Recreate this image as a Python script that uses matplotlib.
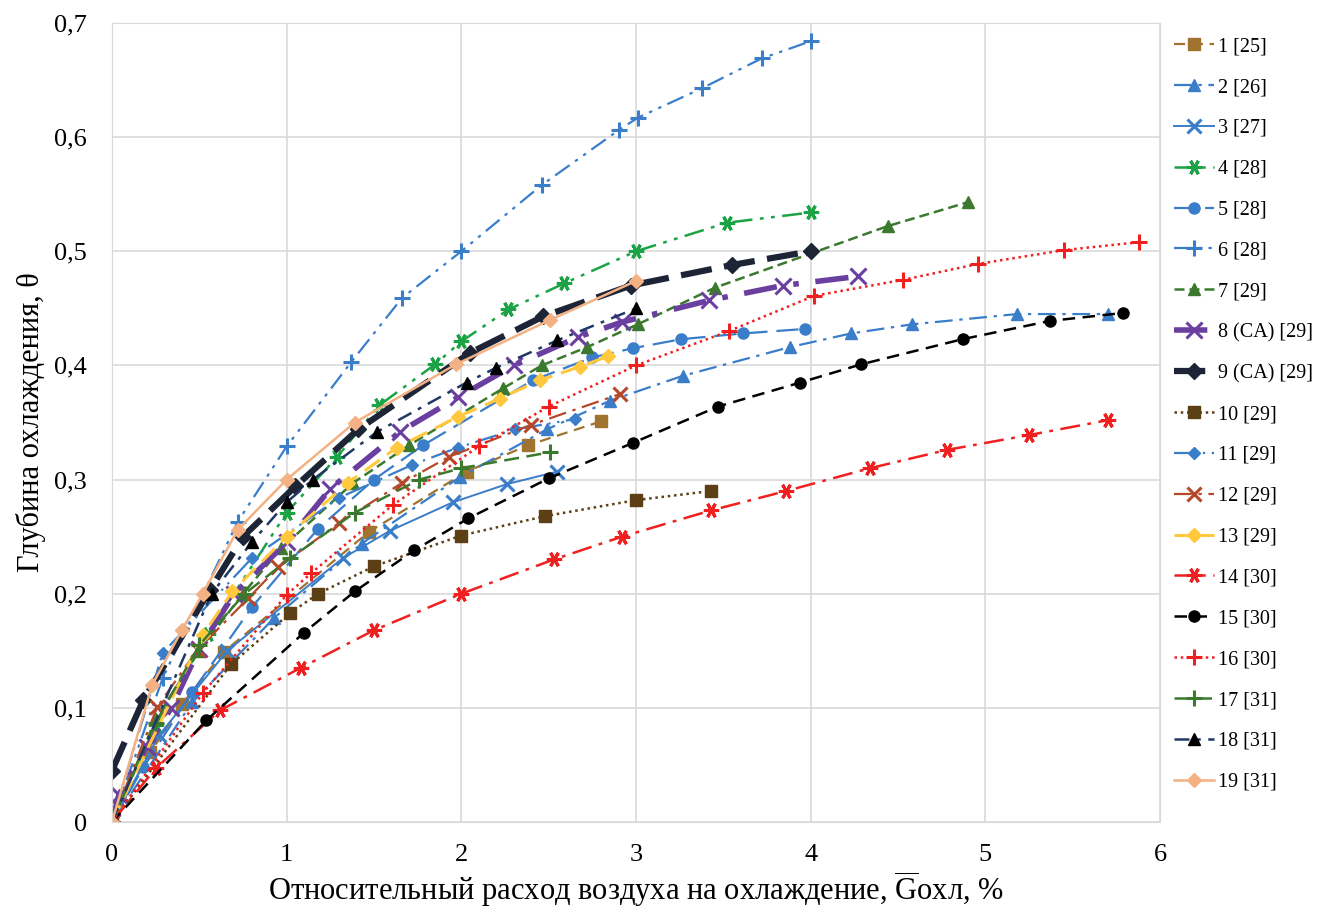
import numpy as np
import matplotlib
matplotlib.use("Agg")
import matplotlib.pyplot as plt
from matplotlib.ticker import FuncFormatter

plt.rcParams['font.family'] = ['Liberation Serif', 'DejaVu Serif']
plt.rcParams['mathtext.fontset'] = 'custom'
plt.rcParams['mathtext.rm'] = 'Liberation Serif'

# данные
x1 = [0, 0.22, 0.4, 0.64, 1.47, 2.03, 2.38, 2.8]
y1 = [0, 0.061, 0.103, 0.149, 0.254, 0.307, 0.33, 0.351]
x2 = [0, 0.46, 0.93, 1.43, 1.99, 2.49, 2.85, 3.27, 3.88, 4.23, 4.58, 5.18, 5.7]
y2 = [0, 0.105, 0.179, 0.244, 0.302, 0.344, 0.369, 0.391, 0.416, 0.428, 0.436, 0.445, 0.445]
x3 = [0, 0.27, 0.66, 1.32, 1.59, 1.95, 2.26, 2.55]
y3 = [0, 0.076, 0.15, 0.231, 0.255, 0.28, 0.296, 0.307]
x4 = [0, 0.25, 0.55, 1.0, 1.29, 1.53, 1.85, 2.0, 2.27, 2.59, 3.0, 3.52, 4.0]
y4 = [0, 0.085, 0.165, 0.271, 0.32, 0.365, 0.401, 0.421, 0.449, 0.472, 0.5, 0.525, 0.534]
x5 = [0, 0.18, 0.46, 0.8, 1.18, 1.5, 1.78, 2.41, 2.75, 2.98, 3.26, 3.61, 3.97]
y5 = [0, 0.048, 0.114, 0.188, 0.257, 0.3, 0.33, 0.387, 0.407, 0.415, 0.423, 0.428, 0.432]
x6 = [0, 0.29, 0.72, 1.0, 1.37, 1.66, 2.0, 2.46, 2.9, 3.01, 3.38, 3.72, 4.0]
y6 = [0, 0.126, 0.263, 0.329, 0.403, 0.459, 0.5, 0.558, 0.606, 0.617, 0.643, 0.669, 0.684]
x7 = [0, 0.25, 0.5, 0.75, 0.97, 1.38, 1.7, 2.24, 2.46, 2.72, 3.01, 3.45, 4.44, 4.9]
y7 = [0, 0.09, 0.15, 0.2, 0.24, 0.297, 0.33, 0.38, 0.4, 0.416, 0.436, 0.468, 0.522, 0.543]
x8 = [0, 0.04, 0.2, 0.34, 0.5, 0.7, 1.0, 1.25, 1.65, 1.98, 2.3, 2.67, 2.92, 3.42, 3.84, 4.27]
y8 = [0, 0.024, 0.066, 0.1, 0.152, 0.2, 0.245, 0.292, 0.342, 0.372, 0.4, 0.425, 0.438, 0.457, 0.47, 0.478]
x9 = [0, 0.18, 0.56, 0.75, 1.05, 1.41, 2.05, 2.47, 2.97, 3.55, 4.0]
y9 = [0.045, 0.107, 0.203, 0.25, 0.294, 0.344, 0.411, 0.443, 0.47, 0.488, 0.5]
x10 = [0, 0.68, 1.02, 1.18, 1.5, 2.0, 2.48, 3.0, 3.43]
y10 = [0, 0.138, 0.183, 0.2, 0.224, 0.251, 0.268, 0.282, 0.29]
x11 = [0, 0.29, 0.8, 1.3, 1.72, 1.98, 2.31, 2.65]
y11 = [0, 0.148, 0.231, 0.284, 0.313, 0.328, 0.344, 0.353]
x12 = [0, 0.26, 0.49, 0.78, 0.95, 1.3, 1.66, 1.93, 2.4, 2.91]
y12 = [0, 0.101, 0.151, 0.196, 0.223, 0.262, 0.297, 0.32, 0.348, 0.375]
x13 = [0, 0.52, 0.69, 1.0, 1.35, 1.63, 1.98, 2.22, 2.45, 2.68, 2.84]
y13 = [0, 0.164, 0.202, 0.25, 0.297, 0.328, 0.355, 0.371, 0.387, 0.399, 0.408]
x14 = [0, 0.25, 0.62, 1.08, 1.5, 2.0, 2.53, 2.92, 3.43, 3.86, 4.34, 4.78, 5.25, 5.7]
y14 = [0, 0.047, 0.098, 0.135, 0.168, 0.2, 0.23, 0.25, 0.273, 0.29, 0.31, 0.326, 0.339, 0.352]
x15 = [0, 0.54, 1.1, 1.39, 1.73, 2.04, 2.5, 2.98, 3.47, 3.94, 4.29, 4.87, 5.37, 5.79]
y15 = [0, 0.089, 0.166, 0.202, 0.238, 0.266, 0.301, 0.332, 0.364, 0.385, 0.401, 0.423, 0.439, 0.446]
x16 = [0, 0.52, 1.0, 1.14, 1.61, 2.1, 2.5, 3.0, 3.53, 4.02, 4.53, 4.96, 5.45, 5.88]
y16 = [0, 0.113, 0.199, 0.218, 0.278, 0.329, 0.364, 0.4, 0.43, 0.461, 0.475, 0.489, 0.501, 0.508]
x17 = [0, 0.25, 0.5, 0.76, 1.02, 1.39, 1.76, 2.0, 2.51]
y17 = [0, 0.087, 0.155, 0.2, 0.231, 0.271, 0.3, 0.31, 0.324]
x18 = [0, 0.57, 0.8, 1.0, 1.15, 1.52, 2.03, 2.2, 2.55, 3.0]
y18 = [0, 0.2, 0.245, 0.28, 0.3, 0.342, 0.385, 0.398, 0.422, 0.45]
x19 = [0, 0.23, 0.4, 0.52, 0.72, 1.0, 1.39, 1.97, 2.51, 3.0]
y19 = [0, 0.12, 0.168, 0.2, 0.256, 0.3, 0.35, 0.401, 0.44, 0.474]

labels = ["1 [25]", "2 [26]", "3 [27]", "4 [28]", "5 [28]", "6 [28]", "7 [29]",
          "8 (CA) [29]", "9 (CA) [29]", "10 [29]", "11 [29]", "12 [29]", "13 [29]",
          "14 [30]", "15 [30]", "16 [30]", "17 [31]", "18 [31]", "19 [31]"]

blue = "#3a7dc9"
# (x, y, цвет, стиль линии, толщина, маркер, размер маркера, цвет маркера)
series = [
    (x1, y1, "#a0732e", (0, (5, 3)), 1.6, "s", 8, "#a0732e"),
    (x2, y2, blue, (0, (8, 3, 1.5, 3)), 1.6, "^", 8, blue),
    (x3, y3, blue, "-", 1.4, "x", 10, blue),
    (x4, y4, "#1ba345", (0, (8, 3, 1.5, 3, 1.5, 3)), 1.8, (6, 2, 90), 11, "#1ba345"),
    (x5, y5, blue, (0, (10, 4)), 1.6, "o", 8, blue),
    (x6, y6, blue, (0, (8, 3, 1.5, 3, 1.5, 3)), 1.6, "+", 11, blue),
    (x7, y7, "#3b7a2e", (0, (4, 2)), 1.8, "^", 8, "#3b7a2e"),
    (x8, y8, "#6a3fa0", (0, (6, 3, 1, 3)), 4.0, "x", 12, "#6a3fa0"),
    (x9, y9, "#1c2436", (0, (5, 2)), 4.5, "D", 8, "#1c2436"),
    (x10, y10, "#5c3f14", (0, (1, 1.5)), 1.8, "s", 9, "#5c3f14"),
    (x11, y11, blue, (0, (10, 3, 1, 3, 1, 3)), 1.6, "D", 6, blue),
    (x12, y12, "#b5472a", (0, (8, 3, 1.5, 3)), 1.6, "x", 10, "#b5472a"),
    (x13, y13, "#ffc83d", (0, (6, 3)), 2.2, "D", 7, "#ffc83d"),
    (x14, y14, "#f02020", (0, (8, 3, 1.5, 3)), 1.8, (6, 2, 90), 11, "#f02020"),
    (x15, y15, "black", (0, (5, 3)), 1.8, "o", 8, "black"),
    (x16, y16, "#f02020", (0, (1, 1.5)), 1.8, "+", 11, "#f02020"),
    (x17, y17, "#3b7a2e", (0, (6, 3)), 1.8, "+", 11, "#3b7a2e"),
    (x18, y18, "#1f3864", (0, (6, 3, 1.5, 3)), 1.8, "^", 8, "black"),
    (x19, y19, "#f4b183", "-", 1.8, "D", 7, "#f4b183"),
]

fig = plt.figure(figsize=(13.25, 9.16), dpi=100)
ax = fig.add_axes([0.0845, 0.1026, 0.791, 0.8723])

for (xs, ys, c, ls, lw, mk, ms, mc), lab in zip(series, labels):
    mew = 2.2 if mk in ("x", "+") or isinstance(mk, tuple) else 1.0
    ax.plot(xs, ys, color=c, linestyle=ls, linewidth=lw, marker=mk,
            markersize=ms, markerfacecolor=mc, markeredgecolor=mc,
            markeredgewidth=mew, label=lab)

ax.set_xlim(0, 6)
ax.set_ylim(0, 0.7)
ax.set_xticks(np.arange(0, 7, 1))
ax.set_yticks(np.arange(0, 0.71, 0.1))
ax.yaxis.set_major_formatter(FuncFormatter(lambda v, p: "0" if abs(v) < 1e-9 else ("%.1f" % v).replace(".", ",")))
ax.tick_params(labelsize=19, length=0)
ax.tick_params(axis="x", pad=16)
ax.tick_params(axis="y", pad=18)
ax.grid(True, color="#d9d9d9", linewidth=1.2)
ax.set_axisbelow(True)
for s in ax.spines.values():
    s.set_color("#d9d9d9")

ax.set_ylabel("Глубина охлаждения, θ", fontsize=22, labelpad=6)
ax.set_xlabel(r"Относительный расход воздуха на охлаждение, $\overline{\mathrm{G}}$охл, %",
              fontsize=22, labelpad=2)

ax.legend(loc="upper left", bbox_to_anchor=(1.0, 1.0), frameon=False,
          fontsize=14.5, labelspacing=1.08, handlelength=2.0, handletextpad=0.2,
          borderaxespad=0.3, borderpad=0.4)

plt.savefig("out.png", dpi=100)
